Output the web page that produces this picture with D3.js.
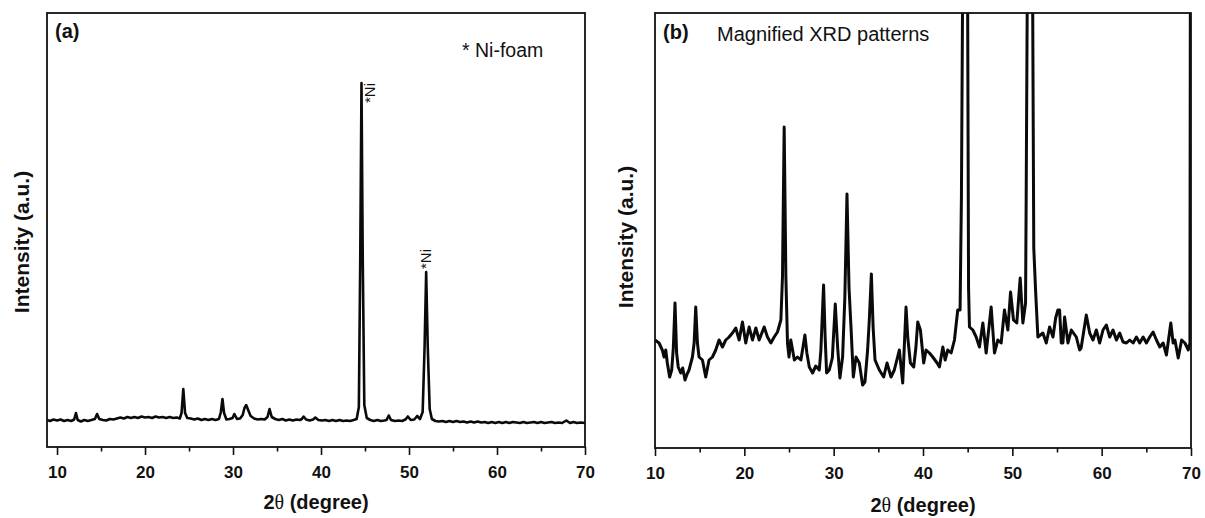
<!DOCTYPE html>
<html><head><meta charset="utf-8">
<script src="https://cdn.jsdelivr.net/npm/d3@7"></script>
<style>body{margin:0;background:#fff} svg{display:block}</style>
</head><body>
<svg id="chart" width="1205" height="518"></svg>
<script>
// ---------- data ----------
const majorTicks = [10, 20, 30, 40, 50, 60, 70];
const minorTicks = [15, 25, 35, 45, 55, 65];
const yTitle = "Intensity (a.u.)";

// Panel (a): full XRD pattern (2θ, intensity a.u.)
const fullTheta = [8.86,9.2,9.6,10.0,10.4,10.8,11.2,11.6,11.95,12.15,12.35,12.7,13.1,13.5,13.9,14.3,14.55,14.8,15.2,15.6,16.0,16.4,16.8,17.2,17.6,18.0,18.4,18.8,19.2,19.6,20.0,20.4,20.8,21.2,21.6,22.0,22.4,22.8,23.2,23.6,23.95,24.15,24.35,24.55,24.8,25.2,25.6,26.0,26.4,26.8,27.2,27.6,28.0,28.4,28.62,28.8,28.98,29.25,29.6,29.95,30.15,30.45,30.8,31.1,31.3,31.5,31.72,32.0,32.4,32.8,33.2,33.6,33.92,34.15,34.4,34.8,35.2,35.6,36.0,36.4,36.8,37.2,37.6,37.82,38.02,38.3,38.7,39.1,39.35,39.7,40.1,40.5,40.9,41.3,41.7,42.1,42.5,42.9,43.3,43.7,44.05,44.3,44.46,44.6,44.74,44.92,45.2,45.6,46.0,46.4,46.8,47.2,47.45,47.7,47.95,48.4,48.8,49.2,49.6,49.87,50.2,50.6,50.93,51.25,51.55,51.77,51.95,52.13,52.35,52.6,53.0,53.4,53.8,54.2,54.6,55.0,55.4,55.8,56.2,56.6,57.0,57.4,57.8,58.2,58.6,59.0,59.4,59.8,60.2,60.6,61.0,61.4,61.8,62.2,62.6,63.0,63.4,63.8,64.2,64.6,65.0,65.4,65.8,66.2,66.6,67.0,67.4,67.88,68.3,68.7,69.1,69.5,70.0];
const fullIntensity = [27,26,27.5,26.5,27.5,26,27,26,27.5,34,27,25.5,27,26,27,28,33,28,27,26.5,28,27.5,28.5,29.5,28.5,30,29,30,29,30.5,29.5,30,29,30.5,29.5,30,29,30,29,29.5,28.5,34,58,34,29,28.5,27.5,28.5,27,28,27,28,27,28,35,48,34,27.5,28,29,33,28,28.5,32,39,42,37,31,28.5,27.5,28,27.5,30,38,30,28,27,28,26.5,27.5,26.5,27.5,27,28,30.5,27.5,26.5,27.5,29.5,27,26.5,27,26,27,26,27,26,26.5,26,27,28,40,190,364,190,42,29,27,26,27,26,26.5,27,31.5,27,26,26.5,26,27.5,30.5,27,27.5,31,28,35,100,175,100,38,28,26,25.5,26,25,26,25,26,25,25.5,24.5,25.5,24.5,25.5,24.5,25,24,25,24,25,24,25,24,25,24.5,24,25,24,24.5,25,24,25,24,24.5,25,24,24.5,24,26.5,24,25,24,24.5,24];

// Panel (b): magnified XRD pattern (2θ, intensity a.u.)
const magTheta = [10.0,10.45,10.82,11.01,11.2,11.38,11.64,11.87,12.05,12.24,12.42,12.6,12.88,13.1,13.36,13.6,13.81,14.19,14.38,14.56,14.75,14.93,15.31,15.68,16.05,16.43,16.8,17.17,17.55,17.92,18.3,18.67,19.04,19.42,19.79,20.16,20.54,20.91,21.29,21.66,22.22,22.59,22.97,23.34,23.71,24.09,24.27,24.46,24.65,24.83,25.0,25.2,25.6,25.95,26.33,26.55,26.78,27.0,27.27,27.64,28.0,28.39,28.57,28.87,29.05,29.21,29.51,29.85,30.18,30.45,30.7,31.0,31.25,31.49,31.72,31.94,32.2,32.5,32.87,33.24,33.5,33.8,34.0,34.22,34.42,34.63,35.11,35.6,35.97,36.42,36.79,37.35,37.73,37.9,38.1,38.3,38.59,38.96,39.2,39.41,39.71,40.08,40.34,40.72,41.09,41.58,41.84,42.03,42.22,42.48,42.77,43.15,43.52,43.89,44.15,44.3,44.45,44.6,44.72,44.85,45.0,45.1,45.2,45.58,45.95,46.32,46.7,47.07,47.35,47.63,48.0,48.38,48.75,49.12,49.5,49.8,50.13,50.5,50.88,51.18,51.48,51.55,51.7,51.85,51.97,52.1,52.25,52.4,52.6,52.86,53.42,53.8,54.17,54.55,54.85,55.1,55.29,55.48,55.66,55.85,56.23,56.6,57.16,57.53,57.7,58.28,58.66,59.03,59.4,59.78,60.15,60.52,60.9,61.27,61.65,62.02,62.39,62.77,63.14,63.52,63.89,64.26,64.64,65.01,65.38,65.76,66.13,66.51,66.88,67.25,67.74,68.0,68.2,68.57,68.95,69.32,69.7,69.88,70.0];
const magIntensity = [108,105,98,91,98,85,71,78,100,145,95,81,75,80,68,74,78,91,105,141,105,91,88,71,88,91,98,108,101,108,111,115,120,108,126,105,121,108,120,108,121,111,105,111,116,128,171,321,171,105,91,108,88,91,88,100,113,95,81,75,82,78,98,163,110,75,78,90,144,100,70,91,150,254,160,121,71,91,85,63,66,98,130,174,120,88,78,71,85,71,78,98,65,100,141,110,85,81,100,126,118,85,98,95,91,85,81,91,101,88,98,95,108,138,138,250,480,1500,2500,1500,440,160,121,118,111,101,125,95,118,141,95,108,105,138,118,156,128,125,170,125,145,250,500,900,1200,900,500,200,158,111,115,105,121,111,130,138,138,105,105,131,105,118,111,98,100,133,115,108,118,105,118,123,111,118,108,115,106,105,108,105,111,105,111,105,111,116,108,101,105,93,125,105,108,90,108,105,98,105,1000];

const niPeaks = [44.6, 51.95];

// ---------- drawing ----------
const svg = d3.select("#chart");
const FONT = "'Liberation Sans', Arial, Helvetica, sans-serif";

function panel(opts) {
  const {left, right, top, bottom, xDomain, yDomain, theta, inten, lineW, id} = opts;
  const x = d3.scaleLinear().domain(xDomain).range([left, right]);
  const y = d3.scaleLinear().domain(yDomain).range([bottom, top]);
  const g = svg.append("g");

  g.append("clipPath").attr("id", "clip" + id)
    .append("rect").attr("x", left).attr("y", top)
    .attr("width", right - left).attr("height", bottom - top);

  const data = theta.map((t, i) => [t, inten[i]]);
  const line = d3.line().x(d => x(d[0])).y(d => y(d[1]));
  g.append("path").datum(data)
    .attr("clip-path", `url(#clip${id})`)
    .attr("d", line).attr("fill", "none").attr("stroke", "#0a0a0a")
    .attr("stroke-width", lineW).attr("stroke-linejoin", "round");

  // frame
  g.append("rect").attr("x", left).attr("y", top)
    .attr("width", right - left).attr("height", bottom - top)
    .attr("fill", "none").attr("stroke", "#111").attr("stroke-width", 1.8);

  // axes
  const major = g.append("g").attr("transform", `translate(0,${bottom})`)
    .call(d3.axisBottom(x).tickValues(majorTicks).tickSize(8).tickFormat(d3.format("d")));
  major.select(".domain").remove();
  major.selectAll(".tick line").attr("stroke", "#111").attr("stroke-width", 1.6);
  major.selectAll(".tick text").attr("dy", null).attr("y", 31)
    .attr("font-family", FONT).attr("font-size", 17).attr("font-weight", "bold").attr("fill", "#111");

  const minor = g.append("g").attr("transform", `translate(0,${bottom})`)
    .call(d3.axisBottom(x).tickValues(minorTicks).tickSize(4.5).tickFormat(""));
  minor.select(".domain").remove();
  minor.selectAll(".tick line").attr("stroke", "#111").attr("stroke-width", 1.6);

  return {x, y, g};
}

const A = panel({left: 47, right: 585, top: 13, bottom: 447, xDomain: [8.86, 70], yDomain: [0, 434],
  theta: fullTheta, inten: fullIntensity, lineW: 2.6, id: "a"});
const B = panel({left: 655, right: 1191, top: 13, bottom: 448, xDomain: [10, 70], yDomain: [0, 435],
  theta: magTheta, inten: magIntensity, lineW: 3, id: "b"});

function xTitle(cx, by) {
  const t = svg.append("text").attr("x", cx).attr("y", by).attr("text-anchor", "middle")
    .attr("font-family", FONT).attr("font-size", 20).attr("font-weight", "bold").attr("fill", "#111");
  t.append("tspan").text("2");
  t.append("tspan").attr("font-family", "'Liberation Serif','DejaVu Serif',serif").attr("font-weight", "normal").text("θ");
  t.append("tspan").text(" (degree)");
}
xTitle(316, 509);
xTitle(923, 512);

function yTitleAt(cx, cy) {
  svg.append("text").attr("transform", `translate(${cx},${cy}) rotate(-90)`)
    .attr("text-anchor", "middle").attr("font-family", FONT).attr("font-size", 21)
    .attr("font-weight", "bold").attr("fill", "#111").text(yTitle);
}
yTitleAt(29, 242);
yTitleAt(633, 237);

// panel tags & annotations
svg.append("text").attr("x", 55).attr("y", 38).attr("font-family", FONT).attr("font-size", 20)
  .attr("font-weight", "bold").attr("fill", "#111").text("(a)");
svg.append("text").attr("x", 663).attr("y", 39).attr("font-family", FONT).attr("font-size", 20)
  .attr("font-weight", "bold").attr("fill", "#111").text("(b)");
svg.append("text").attr("x", 717).attr("y", 40.5).attr("font-family", FONT).attr("font-size", 20)
  .attr("fill", "#111").text("Magnified XRD patterns");
svg.append("text").attr("x", 462).attr("y", 56.5).attr("font-family", FONT).attr("font-size", 19.5)
  .attr("fill", "#111").text("* Ni-foam");

// *Ni labels at the nickel-foam peaks
const peakTop = t => {
  let best = 0;
  fullTheta.forEach((v, i) => { if (Math.abs(v - t) < 0.25) best = Math.max(best, fullIntensity[i]); });
  return best;
};
const niOffsets = [[14, 20], [5, -3]];
niPeaks.forEach((t, i) => {
  const px = A.x(t) + niOffsets[i][0], py = A.y(peakTop(t)) + niOffsets[i][1];
  svg.append("text").attr("transform", `translate(${px},${py}) rotate(-90)`)
    .attr("font-family", FONT).attr("font-size", 15).attr("fill", "#111").text("*Ni");
});
</script>
</body></html>
